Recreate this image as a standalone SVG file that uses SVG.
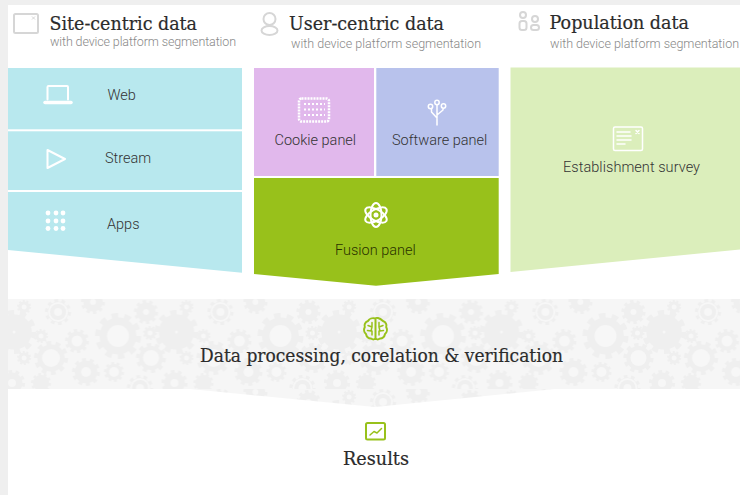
<svg xmlns="http://www.w3.org/2000/svg" xmlns:xlink="http://www.w3.org/1999/xlink" width="740" height="495" viewBox="0 0 740 495">
<style>
.h{font-family:"DejaVu Serif","Liberation Serif",serif;font-size:18.5px;fill:#2b2b2b;stroke:#2b2b2b;stroke-width:.2}
.s{font-family:Roboto,"Liberation Sans",sans-serif;font-size:12.5px;font-weight:300;fill:#888}
.l{font-family:Roboto,"Liberation Sans",sans-serif;font-size:14.5px;font-weight:300;fill:#333}
.w{fill:none;stroke:#fff;stroke-width:2;stroke-linecap:round;stroke-linejoin:round}
.g{fill:none;stroke:#d6d6d6;stroke-width:2;stroke-linejoin:round}
.n{fill:none;stroke:#98c11b;stroke-width:2;stroke-linejoin:round;stroke-linecap:round}
.o{fill:#f7f7f7}
</style>
<defs>
<g id="dk"><circle r="8" fill="#efefef"/><circle r="8.6" fill="none" stroke="#efefef" stroke-width="2.800" pathLength="20" stroke-dasharray="1 1"/></g>
<g id="tile">
<use xlink:href="#dk" transform="translate(118,37) scale(2.300)"/><circle class="o" cx="118" cy="37" r="11"/>
<use xlink:href="#dk" transform="translate(14,33) scale(2.200)"/><circle class="o" cx="14" cy="33" r="1.500"/>
<use xlink:href="#dk" transform="translate(51,59) scale(1.700)"/><circle class="o" cx="51" cy="59" r="9"/>
<use xlink:href="#dk" transform="translate(151,59) scale(1.500)"/><circle class="o" cx="151" cy="59" r="8"/>
<use xlink:href="#dk" transform="translate(77,42) scale(1.200)"/><circle class="o" cx="77" cy="42" r="5.500"/>
<use xlink:href="#dk" transform="translate(86,73) scale(1.400)"/><circle class="o" cx="86" cy="73" r="5"/>
<use xlink:href="#dk" transform="translate(114,73) scale(1)"/><circle class="o" cx="114" cy="73" r="5"/>
<use xlink:href="#dk" transform="translate(58,13) scale(1.300)"/><circle class="o" cx="58" cy="13" r="10"/><circle cx="58" cy="13" r="8" fill="#efefef"/><circle class="o" cx="58" cy="13" r="4"/>
<use xlink:href="#dk" transform="translate(146,13) scale(1.200)"/><circle class="o" cx="146" cy="13" r="3"/>
<use xlink:href="#dk" transform="translate(41,37) scale(.7)"/><circle class="o" cx="41" cy="37" r="2.500"/>
<use xlink:href="#dk" transform="translate(150,34) scale(.7)"/><circle class="o" cx="150" cy="34" r="2.500"/>
<use xlink:href="#dk" transform="translate(24,59) scale(.7)"/><circle class="o" cx="24" cy="59" r="2.500"/>
<use xlink:href="#dk" transform="translate(24,8) scale(.7)"/><circle class="o" cx="24" cy="8" r="2.500"/>
<use xlink:href="#dk" transform="translate(12,84) scale(1.300)"/><circle class="o" cx="12" cy="84" r="4"/>
<use xlink:href="#dk" transform="translate(41,84) scale(1)"/>
<use xlink:href="#dk" transform="translate(93,3) scale(1.200)"/><circle class="o" cx="93" cy="3" r="3"/>
<use xlink:href="#dk" transform="translate(140,89) scale(1.300)"/><circle class="o" cx="140" cy="89" r="10"/><circle cx="140" cy="89" r="8" fill="#efefef"/><circle class="o" cx="140" cy="89" r="4"/>
</g>
<pattern id="gears" x="0" y="299" width="162.500" height="90" patternUnits="userSpaceOnUse">
<rect width="162.500" height="90" fill="#f6f6f6"/>
<use xlink:href="#tile" x="-162.500"/><use xlink:href="#tile"/><use xlink:href="#tile" x="162.500"/>
</pattern>
</defs>
<rect width="740" height="495" fill="#fff"/>
<rect width="740" height="5" fill="#efefef"/>
<rect width="8" height="495" fill="#efefef"/>

<g id="band"><path d="M8 299H740V389H555L375 407L190 389H8Z" fill="url(#gears)"/></g>

<g id="site-header">
<rect x="14" y="14" width="24" height="19" rx="1.500" class="g"/><path d="M32 16.500l3 3M35 16.500l-3 3" stroke="#d6d6d6" fill="none"/>
<text x="49.500" y="30" class="h" textLength="147.500" lengthAdjust="spacingAndGlyphs">Site-centric data</text>
<text x="50" y="45.500" class="s" textLength="186">with device platform segmentation</text>
</g>
<g id="web"><rect x="8" y="68" width="234" height="61.300" fill="#b8e8ee"/>
<path class="w" d="M47.500 99.500V87a1 1 0 0 1 1-1H67a1 1 0 0 1 1 1V99.500"/><path d="M45 102.500H71" stroke="#fff" stroke-width="3.500" stroke-linecap="round"/>
<text x="107.500" y="100" class="l">Web</text></g>
<g id="stream"><rect x="8" y="131.300" width="234" height="58.700" fill="#b8e8ee"/>
<path class="w" d="M47.500 150L65 159L47.500 168Z"/>
<text x="105" y="163" class="l">Stream</text></g>
<g id="apps"><path d="M8 192H242V272.700L8 250Z" fill="#b8e8ee"/>
<g fill="#fff"><circle cx="48" cy="213" r="2.400"/><circle cx="56" cy="213" r="2.400"/><circle cx="63" cy="213" r="2.400"/><circle cx="48" cy="221" r="2.400"/><circle cx="56" cy="221" r="2.400"/><circle cx="63" cy="221" r="2.400"/><circle cx="48" cy="228.500" r="2.400"/><circle cx="56" cy="228.500" r="2.400"/><circle cx="63" cy="228.500" r="2.400"/></g>
<text x="107" y="229" class="l">Apps</text></g>

<g id="user-header">
<circle cx="269.500" cy="19" r="6" class="g"/><ellipse cx="269.500" cy="30.500" rx="8" ry="4.500" class="g"/>
<text x="289" y="30" class="h" textLength="155" lengthAdjust="spacingAndGlyphs">User-centric data</text>
<text x="291" y="48" class="s" textLength="190">with device platform segmentation</text>
</g>
<g id="cookie"><rect x="254" y="68" width="120" height="108" fill="#e1b8ec"/>
<rect x="299" y="98.500" width="30" height="23" rx="2.500" fill="none" stroke="#fff" stroke-width="2.500" stroke-dasharray="2 1"/>
<g fill="none" stroke="#fff" stroke-width="2" stroke-dasharray="2 2"><path d="M304 104H325M304 109.500H325M304 115H325"/></g>
<text x="274.500" y="145" class="l">Cookie panel</text></g>
<g id="software"><rect x="376.300" y="68" width="122.400" height="108" fill="#b8c2ec"/>
<path class="w" style="stroke-width:1.500" d="M437 125V105M437 118L431.500 112V109M437 115L443 110V109"/><circle cx="437" cy="102.500" r="2.200" class="w" style="stroke-width:1.500"/><circle cx="430.500" cy="106.500" r="2.200" class="w" style="stroke-width:1.500"/><circle cx="443.500" cy="106" r="2.200" class="w" style="stroke-width:1.500"/>
<text x="392" y="145" class="l">Software panel</text></g>
<g id="fusion"><path d="M254 178H498.700V274L376 285.700L254 274Z" fill="#98c11b"/>
<g class="w"><ellipse cx="376" cy="215" rx="12" ry="5.500" transform="rotate(30 376 215)"/><ellipse cx="376" cy="215" rx="12" ry="5.500" transform="rotate(90 376 215)"/><ellipse cx="376" cy="215" rx="12" ry="5.500" transform="rotate(150 376 215)"/></g><circle cx="376" cy="215" r="2.500" fill="#fff"/>
<text x="335" y="255" class="l" style="fill:#2a3300">Fusion panel</text></g>

<g id="population-header">
<circle cx="523" cy="15" r="3" class="g"/><rect x="519.500" y="21" width="7" height="9" rx="2.500" class="g"/><circle cx="535" cy="19" r="3" class="g"/><rect x="531" y="25" width="8" height="5" rx="2.500" class="g"/>
<text x="549.500" y="29" class="h" textLength="139.500" lengthAdjust="spacingAndGlyphs">Population data</text>
<text x="550" y="48" class="s" textLength="189">with device platform segmentation</text>
</g>
<g id="survey"><path d="M510.500 67.500H740V249.500L510.500 272Z" fill="#dbeebb"/>
<rect x="613.500" y="127" width="29" height="23.500" rx="1.500" class="w" style="stroke-width:1.500"/>
<path class="w" style="stroke-width:1.500" d="M617 132H630M617 136H631M617 140H631M617 144H625"/><path class="w" style="stroke-width:1.500" d="M636 130.500l3 3M639 130.500l-3 3"/>
<text x="563" y="172" class="l" textLength="137">Establishment survey</text></g>

<g id="processing">
<path class="n" d="M375.500 318.500C372 317.500 369 319 368 321C365 322 364 325 364.800 327C363.500 329.500 364 332.500 366 334C366.500 337 369 339 371 338.500C373 340 375 339.500 375.500 338V318.500C376 317.500 379 317.500 383 321C386 322 387 325 386.200 327C387.500 329.500 387 332.500 385 334C384.500 337 382 339 380 338.500C378 340 376 339.500 375.500 338"/>
<path class="n" style="stroke-width:1.500" d="M372 322.500V327L368 325.500M372 327L371 331L367.500 330.500M372 331V335M379 322.500V327L383 325.500M379 327L380 331L383.500 330.500M379 331V335"/>
<text x="200" y="361.500" class="h" textLength="363" lengthAdjust="spacingAndGlyphs">Data processing, corelation &amp; verification</text>
</g>
<g id="results">
<rect x="366" y="423" width="19" height="16.500" rx="1.500" class="n"/><path class="n" style="stroke-width:1.500" d="M370 435L374 431.500L377 433L381.500 428.500"/>
<text x="343" y="465" class="h" textLength="66" lengthAdjust="spacingAndGlyphs">Results</text>
</g>
<g id="connectors"/>
</svg>
